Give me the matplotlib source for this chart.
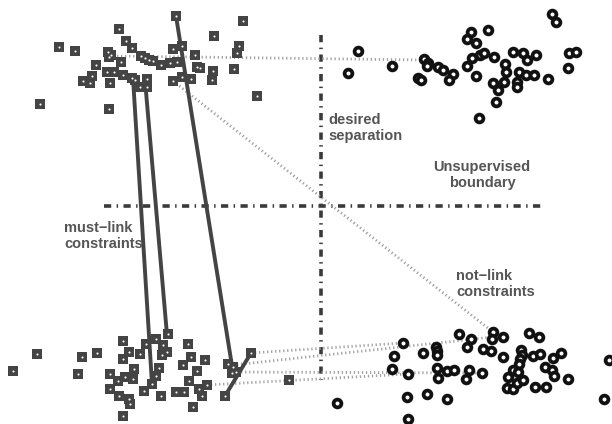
import numpy as np
import matplotlib
matplotlib.use("Agg")
import matplotlib.pyplot as plt

# everything is in picture pixel units (x right, y down)

# cluster A, squares, top-left
sq_top_x = [176, 243, 119, 214, 59, 75, 126, 132, 173, 182, 239, 237, 108, 111, 109, 195,
            141, 145, 149, 153, 161, 170, 177, 121, 96, 197, 200, 234, 213, 107, 114, 123,
            92, 83, 90, 110, 132, 135, 147, 140, 147, 182, 191, 173, 212, 257, 40, 109]
sq_top_y = [16, 21, 29, 36, 47, 51, 41, 48, 49, 46, 46, 53, 52, 55, 57, 55,
            56, 58, 60, 61, 65, 63, 62, 62, 65, 67, 68, 69, 71, 72, 72, 75,
            76, 81, 83, 83, 78, 80, 79, 87, 87, 77, 79, 81, 80, 96, 104, 109]

# cluster A, squares, bottom-left
sq_bot_x = [13, 37, 82, 97, 78, 123, 129, 123, 140, 146, 156, 168, 163, 167, 162, 188,
            191, 183, 205, 197, 159, 156, 152, 144, 161, 110, 118, 125, 134, 133, 110, 119,
            129, 130, 123, 176, 184, 189, 199, 202, 207, 193, 228, 233, 232, 236, 251, 225, 289]
sq_bot_y = [371, 354, 357, 353, 374, 341, 352, 359, 354, 344, 339, 334, 345, 352, 355, 344,
            357, 365, 360, 371, 368, 376, 384, 391, 396, 374, 381, 377, 369, 379, 389, 396,
            399, 404, 416, 392, 392, 381, 389, 396, 385, 407, 364, 367, 373, 372, 353, 396, 380]

# cluster B, circles, top-right
ci_top_x = [552, 556, 358, 348, 392, 471, 467, 476, 488, 424, 428, 427, 438, 443, 453, 449,
            418, 421, 467, 472, 480, 484, 494, 476, 505, 506, 513, 523, 527, 536, 519, 526,
            534, 493, 504, 498, 517, 517, 496, 548, 568, 569, 576, 479]
ci_top_y = [14, 22, 51, 73, 66, 32, 39, 43, 30, 59, 63, 66, 67, 70, 74, 80,
            78, 80, 66, 58, 55, 53, 57, 76, 64, 72, 52, 53, 60, 55, 72, 75,
            75, 83, 82, 90, 82, 87, 102, 79, 68, 53, 52, 118]

# cluster B, circles, bottom-right
ci_bot_x = [337, 403, 394, 392, 408, 407, 408, 427, 423, 436, 437, 437, 437, 438, 447, 454,
            447, 459, 471, 467, 469, 466, 482, 483, 491, 493, 492, 503, 503, 513, 508, 507,
            513, 517, 521, 522, 520, 519, 518, 523, 529, 539, 533, 540, 535, 546, 545, 552,
            554, 553, 561, 568, 609, 604]
ci_bot_y = [403, 343, 356, 369, 374, 397, 419, 394, 353, 347, 351, 355, 368, 378, 371, 370,
            399, 334, 339, 347, 370, 379, 373, 349, 351, 332, 339, 337, 357, 370, 377, 388,
            389, 383, 350, 355, 359, 364, 372, 380, 333, 337, 356, 354, 387, 387, 367, 370,
            376, 358, 353, 379, 360, 399]

# must-link pairs (x0, y0, x1, y1)
must_links = [(133, 78, 152, 384), (145, 80, 167, 335), (176, 16, 232, 366), (251, 353, 225, 396)]
# not-link pairs
not_links = [(113, 56, 424, 60), (173, 81, 493, 332), (251, 353, 403, 343),
             (233, 365, 493, 337), (233, 372, 482, 373), (207, 385, 408, 374)]

# separating lines
vline = (321, 35, 380)
hline = (206, 104, 545)

fig = plt.figure(figsize=(6.12, 4.24), dpi=100)
ax = fig.add_axes([0, 0, 1, 1])
ax.set_xlim(0, 612)
ax.set_ylim(424, 0)
ax.axis('off')

dash = (0, (2.0, 1.5, 0.4, 1.5))
ax.plot([vline[0], vline[0]], [vline[1], vline[2]], color='#3a3a3a', lw=2.6, ls=dash, zorder=1)
ax.plot([hline[1], hline[2]], [hline[0], hline[0]], color='#3a3a3a', lw=2.6, ls=dash, zorder=1)

for x0, y0, x1, y1 in not_links:
    ax.plot([x0, x1], [y0, y1], color='#a0a0a0', lw=2.0, ls=(0, (0.45, 1.0)), zorder=2)

for x0, y0, x1, y1 in must_links:
    ax.plot([x0, x1], [y0, y1], color='#444444', lw=2.8, solid_capstyle='round', zorder=3)

for xs, ys in [(sq_top_x, sq_top_y), (sq_bot_x, sq_bot_y)]:
    ax.plot(xs, ys, 's', ms=7.4, color='#444444', mew=0, zorder=4)
    ax.plot(xs, ys, 'o', ms=1.5, color='white', mew=0, zorder=5)

for xs, ys in [(ci_top_x, ci_top_y), (ci_bot_x, ci_bot_y)]:
    ax.plot(xs, ys, 'o', ms=5.6, mfc='white', mec='#111111', mew=2.7, zorder=4)

tkw = dict(fontsize=10.5, fontweight='bold', color='#555555', family='Liberation Sans',
           linespacing=1.15, zorder=6)
ax.text(328, 128, 'desired\nseparation', ha='left', va='center', **tkw)
ax.text(482, 175, 'Unsupervised\nboundary', ha='center', va='center', **tkw)
ax.text(456, 284, 'not\u2212link\nconstraints', ha='left', va='center', **tkw)
ax.text(64, 236, 'must\u2212link\nconstraints', ha='left', va='center', **tkw)

fig.savefig('out.png', dpi=100)
